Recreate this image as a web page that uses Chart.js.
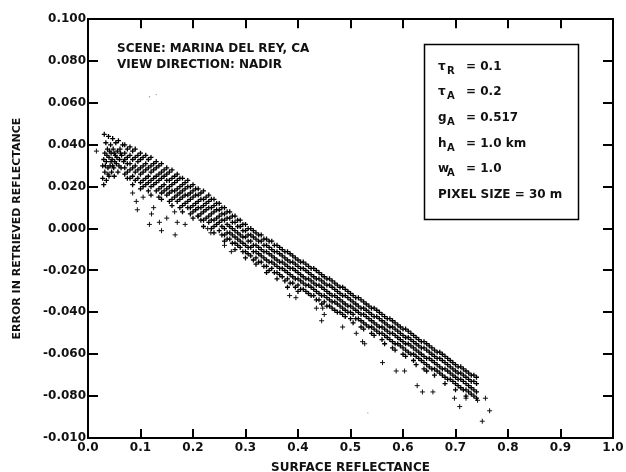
<!DOCTYPE html>
<html>
<head>
<meta charset="utf-8">
<script src="https://cdn.jsdelivr.net/npm/chart.js@4.4.0/dist/chart.umd.min.js"></script>
<style>
  html, body { margin: 0; padding: 0; background: #fff; }
  #wrap { position: relative; width: 626px; height: 472px; }
</style>
</head>
<body>
<div id="wrap"><canvas id="chart"></canvas></div>
<script>
// axis ticks
const xTickValues = [0.0, 0.1, 0.2, 0.3, 0.4, 0.5, 0.6, 0.7, 0.8, 0.9, 1.0];
const yTickValues = [0.1, 0.08, 0.06, 0.04, 0.02, 0.0, -0.02, -0.04, -0.06, -0.08, -0.1];
// bottom label is printed as -0.010 in the original
const yTickLabels = ['0.100', '0.080', '0.060', '0.040', '0.020', '0.000', '-0.020', '-0.040', '-0.060', '-0.080', '-0.010'];

// hook of points at the dark end (x < 0.07)
const hookPoints = [
  [0.028,0.030],[0.028,0.024],[0.030,0.021],[0.031,0.045],[0.032,0.036],[0.032,0.027],
  [0.034,0.041],[0.035,0.032],[0.035,0.023],[0.037,0.038],[0.038,0.029],[0.039,0.044],
  [0.040,0.034],[0.040,0.025],[0.042,0.030],[0.043,0.040],[0.044,0.036],[0.045,0.027],
  [0.046,0.033],[0.047,0.043],[0.048,0.038],[0.049,0.029],[0.050,0.025],[0.052,0.035],
  [0.053,0.041],[0.054,0.031],[0.056,0.037],[0.057,0.027],[0.058,0.042],[0.060,0.033],
  [0.061,0.038],[0.063,0.029],[0.064,0.035],[0.066,0.040],[0.068,0.032],
  [0.030,0.033],[0.033,0.030],[0.036,0.035],[0.038,0.026],[0.041,0.037],[0.044,0.032],
  [0.047,0.030],[0.050,0.036],[0.051,0.032],[0.055,0.034],[0.059,0.030],[0.062,0.036]
];

// main band, columns of [x, [errors...]]
const bandLeft = [
  [0.07,[0.040,0.036,0.033,0.029,0.026]],
  [0.075,[0.038,0.034,0.031,0.027,0.024]],
  [0.08,[0.039,0.035,0.031,0.028,0.024]],
  [0.085,[0.037,0.033,0.029,0.025,0.021]],
  [0.09,[0.038,0.034,0.030,0.027,0.023]],
  [0.095,[0.035,0.032,0.028,0.024]],
  [0.10,[0.036,0.033,0.029,0.026,0.022,0.019]],
  [0.105,[0.034,0.030,0.027,0.023,0.020]],
  [0.11,[0.035,0.031,0.028,0.024,0.021]],
  [0.115,[0.033,0.029,0.025,0.022,0.018]],
  [0.12,[0.034,0.030,0.027,0.023,0.020,0.016]],
  [0.125,[0.031,0.028,0.024,0.021]],
  [0.13,[0.032,0.029,0.025,0.022,0.018]],
  [0.135,[0.030,0.026,0.023,0.019,0.015]],
  [0.14,[0.031,0.027,0.024,0.020,0.017,0.014]],
  [0.145,[0.028,0.025,0.021,0.018]],
  [0.15,[0.029,0.026,0.023,0.019,0.016]],
  [0.155,[0.027,0.023,0.020,0.017,0.013]],
  [0.16,[0.028,0.024,0.021,0.018,0.014,0.011]],
  [0.165,[0.025,0.022,0.018,0.015]],
  [0.17,[0.026,0.023,0.019,0.016,0.013]],
  [0.175,[0.024,0.020,0.017,0.014,0.010]],
  [0.18,[0.024,0.021,0.018,0.015,0.011,0.008]],
  [0.185,[0.022,0.019,0.016,0.012]],
  [0.19,[0.023,0.020,0.016,0.013,0.010]],
  [0.195,[0.020,0.017,0.014,0.010,0.007]],
  [0.20,[0.021,0.018,0.015,0.011,0.008,0.005]],
  [0.205,[0.019,0.016,0.012,0.009]],
  [0.21,[0.019,0.016,0.013,0.010,0.006]],
  [0.215,[0.017,0.014,0.010,0.007,0.004]],
  [0.22,[0.018,0.014,0.011,0.008,0.004,0.001]],
  [0.225,[0.015,0.012,0.009,0.005]],
  [0.23,[0.016,0.013,0.010,0.006,0.003]],
  [0.235,[0.014,0.010,0.007,0.004,0.000]],
  [0.24,[0.014,0.011,0.008,0.004,0.001,-0.002]],
  [0.245,[0.012,0.009,0.005,0.002]],
  [0.25,[0.012,0.009,0.006,0.003,-0.001]],
  [0.255,[0.010,0.007,0.004,0.001,-0.003]]
];
const bandMid = [
  [0.26,[0.010,0.007,0.004,0.000,-0.003,-0.006]],
  [0.265,[0.008,0.005,0.002,-0.002,-0.005]],
  [0.27,[0.008,0.005,0.001,-0.002,-0.005]],
  [0.275,[0.006,0.003,0.000,-0.003,-0.007]],
  [0.28,[0.006,0.003,-0.001,-0.004,-0.007,-0.010]],
  [0.285,[0.004,0.001,-0.002,-0.005,-0.008]],
  [0.29,[0.004,0.001,-0.003,-0.006,-0.009]],
  [0.295,[0.002,-0.001,-0.004,-0.007,-0.011]],
  [0.30,[0.002,-0.001,-0.004,-0.008,-0.011,-0.014]],
  [0.305,[0.000,-0.003,-0.006,-0.009,-0.012]],
  [0.31,[0.000,-0.003,-0.006,-0.009,-0.013]],
  [0.315,[-0.001,-0.004,-0.008,-0.011,-0.015]],
  [0.32,[-0.002,-0.005,-0.008,-0.011,-0.014,-0.017]],
  [0.325,[-0.003,-0.006,-0.009,-0.012,-0.016]],
  [0.33,[-0.003,-0.006,-0.010,-0.013,-0.016]],
  [0.335,[-0.005,-0.008,-0.011,-0.014,-0.018]],
  [0.34,[-0.005,-0.008,-0.011,-0.015,-0.018,-0.021]],
  [0.345,[-0.006,-0.009,-0.012,-0.016,-0.020]],
  [0.35,[-0.006,-0.010,-0.013,-0.016,-0.019]],
  [0.355,[-0.008,-0.011,-0.014,-0.017,-0.021]],
  [0.36,[-0.008,-0.011,-0.015,-0.018,-0.021,-0.024]],
  [0.365,[-0.009,-0.012,-0.016,-0.019,-0.022]],
  [0.37,[-0.010,-0.013,-0.016,-0.019,-0.023]],
  [0.375,[-0.011,-0.014,-0.017,-0.020,-0.025]],
  [0.38,[-0.011,-0.015,-0.018,-0.021,-0.024,-0.028]],
  [0.385,[-0.012,-0.016,-0.019,-0.022,-0.026]],
  [0.39,[-0.013,-0.016,-0.019,-0.023,-0.026]],
  [0.395,[-0.014,-0.017,-0.020,-0.024,-0.028]],
  [0.40,[-0.015,-0.018,-0.021,-0.024,-0.027,-0.030]],
  [0.405,[-0.016,-0.019,-0.022,-0.025,-0.029]],
  [0.41,[-0.016,-0.019,-0.023,-0.026,-0.029]],
  [0.415,[-0.017,-0.020,-0.024,-0.027,-0.030]],
  [0.42,[-0.018,-0.021,-0.024,-0.027,-0.031]],
  [0.425,[-0.019,-0.022,-0.025,-0.028,-0.032]],
  [0.43,[-0.019,-0.023,-0.026,-0.029,-0.032]],
  [0.435,[-0.020,-0.024,-0.027,-0.030,-0.034]],
  [0.44,[-0.021,-0.024,-0.027,-0.031,-0.034]],
  [0.445,[-0.022,-0.025,-0.028,-0.032,-0.036]],
  [0.45,[-0.023,-0.026,-0.029,-0.032,-0.035]],
  [0.455,[-0.024,-0.027,-0.030,-0.033,-0.037]],
  [0.46,[-0.024,-0.027,-0.031,-0.034,-0.037]],
  [0.465,[-0.025,-0.028,-0.032,-0.035,-0.038]],
  [0.47,[-0.026,-0.029,-0.032,-0.035,-0.039]],
  [0.475,[-0.027,-0.030,-0.033,-0.036,-0.040]],
  [0.48,[-0.028,-0.031,-0.034,-0.037,-0.040]],
  [0.485,[-0.028,-0.032,-0.035,-0.038,-0.041]],
  [0.49,[-0.029,-0.032,-0.036,-0.039,-0.042]],
  [0.495,[-0.030,-0.033,-0.037,-0.040]],
  [0.50,[-0.031,-0.034,-0.037,-0.040,-0.043]],
  [0.505,[-0.032,-0.035,-0.038,-0.041,-0.045]]
];
const bandRight = [
  [0.51,[-0.033,-0.036,-0.039,-0.043]],
  [0.515,[-0.033,-0.037,-0.040,-0.043]],
  [0.52,[-0.034,-0.038,-0.041,-0.044,-0.047]],
  [0.525,[-0.035,-0.038,-0.041,-0.045,-0.048]],
  [0.53,[-0.036,-0.039,-0.042,-0.046]],
  [0.535,[-0.037,-0.040,-0.043,-0.047]],
  [0.54,[-0.038,-0.041,-0.044,-0.047,-0.050]],
  [0.545,[-0.038,-0.042,-0.045,-0.048,-0.051]],
  [0.55,[-0.039,-0.042,-0.046,-0.049]],
  [0.555,[-0.040,-0.043,-0.047,-0.050]],
  [0.56,[-0.041,-0.044,-0.047,-0.050,-0.053]],
  [0.565,[-0.042,-0.045,-0.048,-0.051,-0.055]],
  [0.57,[-0.043,-0.046,-0.049,-0.052]],
  [0.575,[-0.043,-0.047,-0.050,-0.053]],
  [0.58,[-0.044,-0.047,-0.050,-0.054,-0.057]],
  [0.585,[-0.045,-0.048,-0.051,-0.055,-0.058]],
  [0.59,[-0.046,-0.049,-0.052,-0.055]],
  [0.595,[-0.047,-0.050,-0.053,-0.056]],
  [0.60,[-0.048,-0.051,-0.054,-0.057,-0.060]],
  [0.605,[-0.048,-0.052,-0.055,-0.058,-0.061]],
  [0.61,[-0.049,-0.052,-0.055,-0.059]],
  [0.615,[-0.050,-0.053,-0.056,-0.060]],
  [0.62,[-0.051,-0.054,-0.057,-0.060,-0.063]],
  [0.625,[-0.052,-0.055,-0.058,-0.061,-0.065]],
  [0.63,[-0.053,-0.056,-0.059,-0.062]],
  [0.635,[-0.054,-0.057,-0.060,-0.063]],
  [0.64,[-0.054,-0.057,-0.061,-0.064,-0.067]],
  [0.645,[-0.055,-0.058,-0.062,-0.065,-0.068]],
  [0.65,[-0.056,-0.059,-0.062,-0.066]],
  [0.655,[-0.057,-0.060,-0.063,-0.067]],
  [0.66,[-0.058,-0.061,-0.064,-0.067,-0.070]],
  [0.665,[-0.059,-0.062,-0.065,-0.068]],
  [0.67,[-0.059,-0.062,-0.066,-0.069]],
  [0.675,[-0.060,-0.063,-0.067,-0.070]],
  [0.68,[-0.061,-0.064,-0.067,-0.071,-0.074]],
  [0.685,[-0.062,-0.065,-0.068,-0.072]],
  [0.69,[-0.063,-0.066,-0.069,-0.072]],
  [0.695,[-0.064,-0.067,-0.070,-0.073]],
  [0.70,[-0.065,-0.068,-0.071,-0.074,-0.077]],
  [0.705,[-0.066,-0.069,-0.072,-0.075]],
  [0.71,[-0.066,-0.069,-0.072,-0.076]],
  [0.715,[-0.067,-0.070,-0.073,-0.077]],
  [0.72,[-0.068,-0.071,-0.074,-0.077,-0.080]],
  [0.725,[-0.069,-0.072,-0.075,-0.078]],
  [0.73,[-0.070,-0.073,-0.076,-0.079]],
  [0.735,[-0.070,-0.073,-0.077,-0.080]],
  [0.74,[-0.071,-0.074,-0.078,-0.081]]
];

// scattered points below the band
const lowerScatter = [
  [0.016,0.037],[0.085,0.017],[0.092,0.013],[0.094,0.009],[0.105,0.015],[0.117,0.002],
  [0.121,0.007],[0.125,0.010],[0.136,0.003],[0.140,-0.001],[0.150,0.005],[0.165,0.008],
  [0.166,-0.003],[0.170,0.003],[0.185,0.002],[0.209,0.006],[0.228,0.000],[0.234,-0.002],
  [0.260,-0.008],[0.273,-0.011],[0.384,-0.032],[0.396,-0.033],[0.435,-0.038],[0.445,-0.044],
  [0.447,-0.038],[0.450,-0.041],[0.485,-0.047],[0.511,-0.050],[0.523,-0.054],[0.527,-0.055],
  [0.561,-0.064],[0.587,-0.068],[0.603,-0.068],[0.627,-0.075],[0.637,-0.078],[0.657,-0.078],
  [0.698,-0.081],[0.708,-0.085],[0.720,-0.081],[0.742,-0.082],[0.751,-0.092],[0.757,-0.081],
  [0.765,-0.087]
];
// faint specks
const faintSpecks = [[0.117,0.063],[0.130,0.064],[0.533,-0.088]];

function flatten(cols) {
  const out = [];
  cols.forEach(function(c) {
    c[1].forEach(function(y) { out.push({x: c[0], y: y}); });
  });
  return out;
}
function pairs(list) {
  return list.map(function(p) { return {x: p[0], y: p[1]}; });
}

const bandPoints = pairs(hookPoints)
  .concat(flatten(bandLeft))
  .concat(flatten(bandMid))
  .concat(flatten(bandRight));

const fontFamily = "'DejaVu Sans', 'Liberation Sans', sans-serif";
const tickFont = { family: fontFamily, weight: 'bold', size: 12 };

// tick marks drawn by the axes themselves, pointing into the plot
function inwardGrid(len) {
  return { display: true, drawOnChartArea: false, drawTicks: true, tickLength: -len, color: '#000', lineWidth: 2 };
}
const frameBorder = { display: true, color: '#000', width: 2 };
function setXTicks(s) { s.ticks = xTickValues.map(function(v) { return {value: v}; }); }
function setYTicks(s) { s.ticks = yTickValues.map(function(v) { return {value: v}; }); }

// scene notes and the parameter box
const notes = {
  id: 'notes',
  afterDraw: function(chart) {
    const ctx = chart.ctx;
    ctx.save();
    ctx.fillStyle = '#111';
    ctx.font = 'bold 12px ' + fontFamily;
    ctx.textBaseline = 'alphabetic';
    ctx.fillText('SCENE: MARINA DEL REY, CA', 117, 52);
    ctx.fillText('VIEW DIRECTION: NADIR', 117, 68);

    ctx.strokeStyle = '#000';
    ctx.lineWidth = 1.5;
    ctx.strokeRect(424.5, 44.5, 154, 175);

    const rows = [
      ['\u03c4', 'R', '= 0.1', 70],
      ['\u03c4', 'A', '= 0.2', 95],
      ['g', 'A', '= 0.517', 121],
      ['h', 'A', '= 1.0 km', 147],
      ['w', 'A', '= 1.0', 172]
    ];
    rows.forEach(function(r) {
      ctx.font = 'bold 12px ' + fontFamily;
      ctx.fillText(r[0], 438, r[3]);
      ctx.font = 'bold 10px ' + fontFamily;
      ctx.fillText(r[1], 447, r[3] + 4);
      ctx.font = 'bold 12px ' + fontFamily;
      ctx.fillText(r[2], 466, r[3]);
    });
    ctx.fillText('PIXEL SIZE = 30 m', 438, 198);
    ctx.restore();
  }
};

new Chart(document.getElementById('chart'), {
  type: 'scatter',
  data: {
    datasets: [
      {
        label: 'band',
        data: bandPoints,
        xAxisID: 'x',
        yAxisID: 'y',
        pointStyle: 'cross',
        pointRadius: 2.5,
        borderColor: '#000',
        borderWidth: 1.3,
        backgroundColor: '#000'
      },
      {
        label: 'scatter',
        data: pairs(lowerScatter),
        xAxisID: 'x',
        yAxisID: 'y',
        pointStyle: 'cross',
        pointRadius: 2.5,
        borderColor: '#111',
        borderWidth: 1,
        backgroundColor: '#111'
      },
      {
        label: 'specks',
        data: pairs(faintSpecks),
        xAxisID: 'x',
        yAxisID: 'y',
        pointStyle: 'circle',
        pointRadius: 0.7,
        borderWidth: 0,
        backgroundColor: '#999'
      }
    ]
  },
  options: {
    responsive: true,
    maintainAspectRatio: false,
    animation: false,
    devicePixelRatio: 1,
    layout: { padding: { top: 19, right: 13, bottom: 0, left: 0 } },
    plugins: {
      legend: { display: false },
      tooltip: { enabled: false }
    },
    scales: {
      x: {
        type: 'linear',
        position: 'bottom',
        min: 0,
        max: 1,
        grid: inwardGrid(9),
        border: frameBorder,
        afterBuildTicks: setXTicks,
        // fixed height; label overhang is covered by the layout padding
        afterFit: function(s) { s.height = 34; s.paddingLeft = 0; s.paddingRight = 0; },
        ticks: {
          padding: 12,
          maxRotation: 0,
          color: '#111',
          font: tickFont,
          callback: function(v) { return Number(v).toFixed(1); }
        },
        title: {
          display: true,
          text: 'SURFACE REFLECTANCE',
          color: '#111',
          font: { family: fontFamily, weight: 'bold', size: 12, lineHeight: 1 },
          padding: { top: 0, bottom: -2 }
        }
      },
      y: {
        type: 'linear',
        position: 'left',
        min: -0.1,
        max: 0.1,
        grid: inwardGrid(10),
        border: frameBorder,
        afterBuildTicks: setYTicks,
        afterFit: function(s) { s.width = 88; },
        ticks: {
          padding: 12,
          color: '#111',
          font: tickFont,
          callback: function(v) {
            const i = yTickValues.findIndex(function(t) { return Math.abs(t - v) < 1e-9; });
            return i >= 0 ? yTickLabels[i] : '';
          }
        },
        title: {
          display: true,
          text: 'ERROR IN RETRIEVED REFLECTANCE',
          color: '#111',
          font: { family: fontFamily, weight: 'bold', size: 11, lineHeight: 1 },
          padding: { top: 12, bottom: 0 }
        }
      },
      xTop: {
        type: 'linear',
        axis: 'x',
        position: 'top',
        min: 0,
        max: 1,
        grid: inwardGrid(9),
        border: frameBorder,
        afterBuildTicks: setXTicks,
        afterFit: function(s) { s.height = 0; s.paddingLeft = 0; s.paddingRight = 0; },
        ticks: { display: false }
      },
      yRight: {
        type: 'linear',
        axis: 'y',
        position: 'right',
        min: -0.1,
        max: 0.1,
        grid: inwardGrid(10),
        border: frameBorder,
        afterBuildTicks: setYTicks,
        afterFit: function(s) { s.width = 0; },
        ticks: { display: false }
      }
    }
  },
  plugins: [notes]
});
</script>
</body>
</html>
